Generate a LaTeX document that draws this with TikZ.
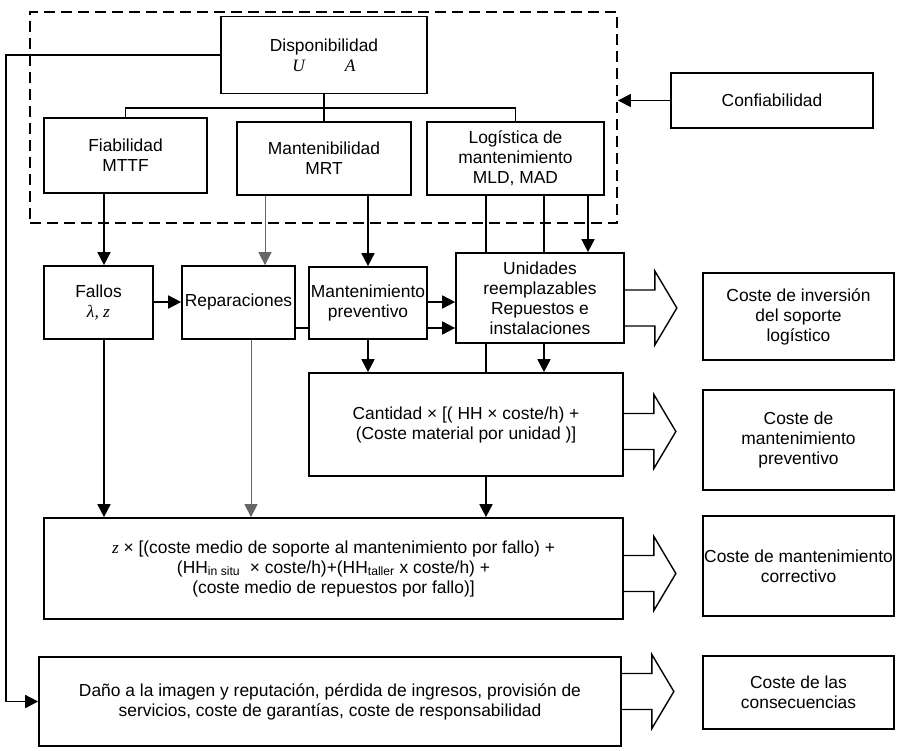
\documentclass[tikz,border=0pt]{standalone}
\usepackage{fontspec}
\setmainfont{Liberation Sans}
\newfontfamily\serfont{Liberation Serif}
\usetikzlibrary{arrows.meta}
\tikzset{%
  block/.style = {draw, line width=1.7pt, fill=white, align=center,
    inner sep=1pt, font=\fontsize{17.4}{20}\selectfont},
  thinblock/.style = {block, line width=1.1pt},
  grpbox/.style = {draw, line width=1.9pt, dash pattern=on 11pt off 6pt},
  link/.style = {draw, line width=1.7pt},
  flow/.style = {link, -{Triangle[length=13pt,width=13pt]}},
  grayflow/.style = {flow, line width=1pt, draw=black!60},
  outarrow/.style = {draw, line width=1.4pt, line join=miter}
}
\begin{document}
\begin{tikzpicture}[x=1pt,y=-1pt]
\useasboundingbox (0,0) rectangle (904,751);
\node[grpbox, minimum width=587pt, minimum height=211pt] (grp) at (323.5,117.5) {};

% availability and its three parts
\node[thinblock, minimum width=206pt, minimum height=77pt] (disp) at (324,55)
  {Disponibilidad\\{\serfont\itshape U\hspace{2.3em}A}};
\node[block, minimum width=163pt, minimum height=75pt] (fia) at (125.5,155.5)
  {Fiabilidad\\MTTF};
\node[thinblock, minimum width=174pt, minimum height=73pt] (man) at (324,158.5)
  {Mantenibilidad\\MRT};
\node[block, minimum width=177pt, minimum height=73pt] (log) at (515.5,158.5)
  {Logística de\\mantenimiento\\MLD, MAD};
\node[block, minimum width=202pt, minimum height=55pt] (conf) at (772,100.5)
  {Confiabilidad};

% activities
\node[block, minimum width=109pt, minimum height=73pt] (fal) at (98.5,302.5)
  {Fallos\\{\serfont\itshape λ, z}};
\node[block, minimum width=113pt, minimum height=73pt] (rep) at (238.5,302.5)
  {Reparaciones};
\node[block, minimum width=118pt, minimum height=72pt] (mp) at (368,303)
  {Mantenimiento\\preventivo};
\node[block, minimum width=168pt, minimum height=90pt] (uni) at (540,298)
  {Unidades\\reemplazables\\Repuestos e\\instalaciones};
\node[block, minimum width=314pt, minimum height=103pt] (cant) at (466,424.5)
  {Cantidad × [( HH × coste/h) +\\(Coste material por unidad )]};
\node[block, minimum width=579pt, minimum height=101pt] (corr) at (333.5,568.5)
  {{\serfont\itshape z} × [(coste medio de soporte al mantenimiento por fallo) +\\
   (HH\textsubscript{in situ}\ \ × coste/h)+(HH\textsubscript{taller} x coste/h) +\\
   (coste medio de repuestos por fallo)]};
\node[block, minimum width=582pt, minimum height=89pt] (dano) at (330,701.5)
  {Daño a la imagen y reputación, pérdida de ingresos, provisión de\\
   servicios, coste de garantías, coste de responsabilidad};

% costs
\node[block, minimum width=191pt, minimum height=87pt] (cinv) at (798.5,316.5)
  {Coste de inversión\\del soporte\\logístico};
\node[block, minimum width=191pt, minimum height=100pt] (cprev) at (798.5,440)
  {Coste de\\mantenimiento\\preventivo};
\node[block, minimum width=191pt, minimum height=100pt] (ccorr) at (798.5,566)
  {Coste de mantenimiento\\correctivo};
\node[block, minimum width=191pt, minimum height=73pt] (ccons) at (798.5,692.5)
  {Coste de las\\consecuencias};

\coordinate (bus) at (324,108);
\coordinate (fb) at (6,380);
\coordinate (xa) at (104,0);
\coordinate (xb) at (265,0);
\coordinate (xc) at (251,0);
\coordinate (xd) at (486,0);
\coordinate (xe) at (544,0);
\coordinate (xf) at (588,0);
\coordinate (ya) at (0,302);
\coordinate (yb) at (0,328);

\draw[link] (disp.south) -- (man.north);
\draw[link] (fia.north) |- (bus) -| (log.north);
\draw[flow] (disp.west) -| (fb) |- (dano.west);
\draw[flow] (conf.west) -- (conf.west -| grp.east);

\draw[flow] (fia.south -| xa) -- (fal.north -| xa);
\draw[grayflow] (man.south -| xb) -- (rep.north -| xb);
\draw[flow] (man.south -| mp.north) -- (mp.north);
\draw[link] (log.south -| xd) -- (uni.north -| xd);
\draw[link] (log.south -| xe) -- (uni.north -| xe);
\draw[flow] (log.south -| xf) -- (uni.north -| xf);

\draw[flow] (fal.east |- ya) -- (rep.west |- ya);
\draw[link] (rep.east |- yb) -- (mp.west |- yb);
\draw[flow] (mp.east |- ya) -- (uni.west |- ya);
\draw[flow] (mp.east |- yb) -- (uni.west |- yb);

\draw[flow] (mp.south) -- (mp.south |- cant.north);
\draw[link] (uni.south -| xd) -- (cant.north -| xd);
\draw[flow] (uni.south -| xe) -- (cant.north -| xe);
\draw[flow] (cant.south -| xd) -- (corr.north -| xd);
\draw[flow] (fal.south -| xa) -- (corr.north -| xa);
\draw[grayflow] (rep.south -| xc) -- (corr.north -| xc);

% hollow arrows towards the costs
\foreach \n/\dy in {uni/10, cant/7, corr/5, dano/-10}
  \draw[outarrow] (\n.east) ++(0,\dy-18) -- ++(30,0) -- ++(0,-19)
    -- ++(22,37) -- ++(-22,37) -- ++(0,-19) -- ++(-30,0);
\end{tikzpicture}
\end{document}
